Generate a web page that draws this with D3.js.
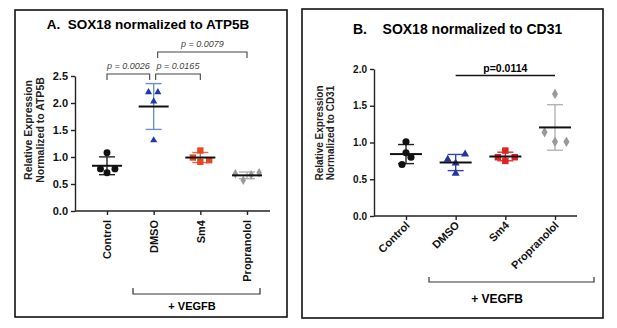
<!DOCTYPE html>
<html>
<head>
  <title>SOX18 expression</title>
  <style>
    body { margin: 0; background: #fff; }
    svg text { font-family: Arial, "Liberation Sans", sans-serif; }
    .frame { fill: none; stroke: #111; stroke-width: 1.6px; }
    .axis path, .axis line { stroke: #222; stroke-width: 1.4px; }
    .axis text { font-weight: bold; fill: #111; }
  </style>
</head>
<body>
  <svg id="chart" width="617" height="328"></svg>

  <script src="https://d3js.org/d3.v7.min.js"></script>
  <script>
    // groups
    const categories = ['Control', 'DMSO', 'Sm4', 'Propranolol'];

    // panel A: SOX18 / ATP5B, four replicates per group
    const atp5bValues = [
      [1.08, 0.78, 0.71, 0.78],
      [2.20, 2.20, 2.03, 1.31],
      [1.12, 0.99, 0.91, 0.94],
      [0.69, 0.57, 0.71, 0.67]
    ];
    const atp5bJitter = [
      [0, -0.14, 0, 0.17],
      [-0.11, 0.09, 0, 0],
      [0, -0.16, 0, 0.19],
      [-0.25, -0.08, 0.26, 0.09]
    ];
    const atp5bTicks = [0, 0.5, 1.0, 1.5, 2.0, 2.5];
    const atp5bPvalues = [
      { from: 'Control', to: 'DMSO', label: 'p = 0.0026', level: 0 },
      { from: 'DMSO', to: 'Sm4', label: 'p = 0.0165', level: 0 },
      { from: 'DMSO', to: 'Propranolol', label: 'p = 0.0079', level: 1 }
    ];

    // panel B: SOX18 / CD31
    const cd31Values = [
      [1.01, 0.80, 0.86, 0.70],
      [0.77, 0.84, 0.72, 0.58],
      [0.89, 0.80, 0.80, 0.75],
      [1.66, 1.14, 1.01, 1.01]
    ];
    const cd31Jitter = [
      [0, 0.1, 0, -0.08],
      [-0.16, 0.19, 0, 0],
      [0, -0.15, 0.19, 0],
      [0, -0.21, 0, 0.23]
    ];
    const cd31Ticks = [0, 0.5, 1.0, 1.5, 2.0];
    const cd31Pvalues = [{ from: 'DMSO', to: 'Propranolol', label: 'p=0.0114' }];

    const shapes = [d3.symbolCircle, d3.symbolTriangle, d3.symbolSquare, d3.symbolDiamond];

    const svg = d3.select('#chart');

    function drawPanel(o) {
      const g = svg.append('g');
      g.append('rect').attr('class', 'frame')
        .attr('x', o.box[0]).attr('y', o.box[1])
        .attr('width', o.box[2]).attr('height', o.box[3]);

      g.append('text')
        .attr('x', o.titleX).attr('y', o.titleY)
        .attr('text-anchor', o.titleAnchor)
        .style('font-size', o.titleSize + 'px').style('font-weight', 'bold')
        .attr('xml:space', 'preserve')
        .text(o.title);

      const x = d3.scalePoint().domain(categories).range(o.xRange);
      const step = x.step();
      const y = d3.scaleLinear().domain([0, d3.max(o.ticks)]).range(o.yRange);

      // y axis
      const ya = g.append('g').attr('class', 'axis')
        .attr('transform', `translate(${o.axisX},0)`)
        .call(d3.axisLeft(y).tickValues(o.ticks).tickFormat(d3.format('.1f')).tickSize(4).tickSizeOuter(0));
      ya.selectAll('text').style('font-size', o.tickSize + 'px');

      // x axis
      const xa = g.append('g').attr('class', 'axis')
        .attr('transform', `translate(0,${o.yRange[0]})`)
        .call(d3.axisBottom(x).tickSize(4).tickSizeOuter(0));
      xa.select('.domain').remove();
      xa.append('line').attr('x1', o.axisX).attr('x2', o.axisEnd).attr('y1', 0).attr('y2', 0)
        .attr('stroke', '#222').attr('stroke-width', 1.4);
      xa.selectAll('.tick text').remove();
      xa.selectAll('.tick').append('text')
        .attr('x', 0).attr('y', 0)
        .attr('transform', o.labelRotate === -90
          ? `translate(0,${o.labelGap}) rotate(-90)`
          : `translate(4,${o.labelGap}) rotate(-45)`)
        .attr('dy', o.labelRotate === -90 ? '0.35em' : '0')
        .attr('text-anchor', 'end')
        .style('font-size', o.labelSize + 'px')
        .text(d => d);

      // y title
      const yt = g.append('text')
        .attr('transform', `translate(${o.yTitleX},${o.yTitleY}) rotate(-90)`)
        .attr('text-anchor', 'middle')
        .style('font-size', o.yTitleSize + 'px').style('font-weight', 'bold').attr('fill', '#222');
      o.yTitle.forEach((t, i) => {
        yt.append('tspan').attr('x', 0).attr('dy', i === 0 ? 0 : '1.12em').text(t);
      });

      // groups: sd bar, mean line, points
      categories.forEach((c, i) => {
        const vals = o.values[i];
        const m = d3.mean(vals), sd = d3.deviation(vals);
        const cx = x(c);
        const col = o.colors[i];
        g.append('line').attr('x1', cx).attr('x2', cx).attr('y1', y(m + sd)).attr('y2', y(m - sd))
          .attr('stroke', o.sdColors[i]).attr('stroke-width', 1.4);
        [m + sd, m - sd].forEach(v => {
          g.append('line').attr('x1', cx - o.capW).attr('x2', cx + o.capW).attr('y1', y(v)).attr('y2', y(v))
            .attr('stroke', o.sdColors[i]).attr('stroke-width', 1.4);
        });
        g.selectAll(null).data(vals).enter().append('path')
          .attr('d', d3.symbol().type(shapes[i]).size(o.symSize[i]))
          .attr('transform', (d, j) => `translate(${cx + o.jitter[i][j] * step},${y(d)})`)
          .attr('fill', col);
        g.append('line').attr('x1', cx - o.meanW).attr('x2', cx + o.meanW).attr('y1', y(m)).attr('y2', y(m))
          .attr('stroke', '#111').attr('stroke-width', 2);
      });

      // + VEGFB bracket
      const vb = o.vegfb;
      g.append('path')
        .attr('d', `M${vb.x1},${vb.top}V${vb.y}H${vb.x2}V${vb.top}`)
        .attr('fill', 'none').attr('stroke', '#333').attr('stroke-width', 1.2);
      g.append('text').attr('x', vb.tx).attr('y', vb.ty).attr('text-anchor', 'middle')
        .style('font-size', vb.size + 'px').style('font-weight', 'bold').text('+ VEGFB');

      return { g, x, y };
    }

    // panel A
    const A = drawPanel({
      box: [15, 10, 272, 307],
      title: 'A.  SOX18 normalized to ATP5B', titleX: 148, titleY: 29, titleAnchor: 'middle', titleSize: 13.5,
      xRange: [107, 247], axisX: 75, axisEnd: 270, yRange: [211, 76],
      ticks: atp5bTicks, tickSize: 11,
      labelRotate: -90, labelGap: 9, labelSize: 11,
      yTitle: ['Relative Expression', 'Normalized to ATP5B'], yTitleX: 32, yTitleY: 130, yTitleSize: 10.5,
      values: atp5bValues, jitter: atp5bJitter,
      colors: ['#111111', '#2038a8', '#e8461e', '#9a9a9a'],
      sdColors: ['#222222', '#6f8fc8', '#e86a4a', '#b0b0b0'],
      symSize: [38, 22, 40, 26],
      capW: 8, meanW: 15,
      vegfb: { x1: 133, x2: 260, y: 294, top: 288, tx: 192, ty: 310, size: 11 }
    });

    atp5bPvalues.forEach(p => {
      const top = p.level === 0 ? 74 : 52;
      const x1 = A.x(p.from) + (p.level === 0 && p.from === 'DMSO' ? 2 : (p.level === 1 ? 4 : 0));
      const x2 = A.x(p.to) - (p.to === 'DMSO' ? 4 : 0);
      A.g.append('path').attr('d', `M${x1},${top + 6}V${top}H${x2}V${top + 6}`)
        .attr('fill', 'none').attr('stroke', '#444').attr('stroke-width', 1.1);
      A.g.append('text').attr('x', (x1 + x2) / 2).attr('y', top - 5).attr('text-anchor', 'middle')
        .style('font-size', '9px').style('font-style', 'italic').attr('fill', '#444').text(p.label);
    });

    // panel B
    const B = drawPanel({
      box: [302, 9, 301, 309],
      title: 'B.    SOX18 normalized to CD31', titleX: 353, titleY: 34, titleAnchor: 'start', titleSize: 14,
      xRange: [406, 555], axisX: 374, axisEnd: 577, yRange: [216, 69],
      ticks: cd31Ticks, tickSize: 10,
      labelRotate: -45, labelGap: 10, labelSize: 11,
      yTitle: ['Relative Expression', 'Normalized to CD31'], yTitleX: 323, yTitleY: 133, yTitleSize: 10,
      values: cd31Values, jitter: cd31Jitter,
      colors: ['#111111', '#2433a0', '#e02222', '#999999'],
      sdColors: ['#222222', '#3344aa', '#e03333', '#b4b4b4'],
      symSize: [40, 28, 42, 32],
      capW: 8, meanW: 16,
      vegfb: { x1: 429, x2: 594, y: 282, top: 277, tx: 497, ty: 303, size: 12 }
    });

    cd31Pvalues.forEach(p => {
      const x1 = B.x(p.from), x2 = B.x(p.to);
      B.g.append('line').attr('x1', x1).attr('x2', x2).attr('y1', 75.5).attr('y2', 75.5)
        .attr('stroke', '#111').attr('stroke-width', 1.5);
      B.g.append('text').attr('x', (x1 + x2) / 2).attr('y', 72).attr('text-anchor', 'middle')
        .style('font-size', '10.5px').style('font-weight', 'bold').text(p.label);
    });
  </script>
</body>
</html>
